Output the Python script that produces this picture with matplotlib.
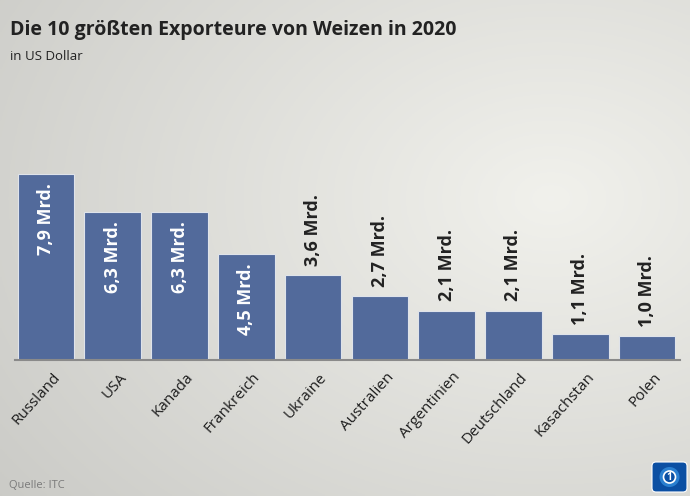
import numpy as np
import matplotlib
matplotlib.use("Agg")
import matplotlib.pyplot as plt
from matplotlib.patches import FancyBboxPatch, Circle
from matplotlib.transforms import ScaledTranslation

countries = ["Russland", "USA", "Kanada", "Frankreich", "Ukraine", "Australien",
             "Argentinien", "Deutschland", "Kasachstan", "Polen"]
values = [7.9, 6.3, 6.3, 4.5, 3.6, 2.7, 2.1, 2.1, 1.1, 1.0]
labels = ["7,9 Mrd.", "6,3 Mrd.", "6,3 Mrd.", "4,5 Mrd.", "3,6 Mrd.", "2,7 Mrd.",
          "2,1 Mrd.", "2,1 Mrd.", "1,1 Mrd.", "1,0 Mrd."]
inside = [True, True, True, True, False, False, False, False, False, False]

W, H = 690, 496
fig = plt.figure(figsize=(W / 100, H / 100), dpi=100)
plt.rcParams['font.family'] = ['Open Sans', 'DejaVu Sans']

# background gradient
bg = fig.add_axes([0, 0, 1, 1], zorder=-10)
yy, xx = np.mgrid[0:1:200j, 0:1:280j]
d = np.sqrt((xx - 0.8) ** 2 + ((1 - yy) - 0.6) ** 2)
light = np.clip(1 - d / 1.0, 0, 1)
g = 0.80 + 0.15 * light
img = np.dstack([g * 0.995, g * 0.995, g * 0.975])
bg.imshow(img, extent=[0, 1, 0, 1], aspect='auto', origin='upper')
bg.axis('off')

# main axes
x0, x1 = 15, 680
base = 360
ax = fig.add_axes([x0 / W, 1 - base / H, (x1 - x0) / W, 280 / H])
ax.patch.set_alpha(0)
pos = np.arange(len(countries))
bars = ax.bar(pos, values, width=0.85, color='#526a9b', edgecolor='#dfe3ea', linewidth=0.8)
ax.set_xlim(-0.464, 9.494)
ax.set_ylim(0, 11.9)
for s in ['top', 'right', 'left']:
    ax.spines[s].set_visible(False)
ax.spines['bottom'].set_color('#8a8a8a')
ax.spines['bottom'].set_linewidth(1.5)
ax.set_yticks([])
ax.set_xticks(pos)
ax.set_xticklabels(countries, rotation=48, ha='right', rotation_mode='anchor',
                   fontsize=11, color='#1e1e1e')
ax.tick_params(axis='x', length=0, pad=7)
off = ScaledTranslation(6 / 100, 0, fig.dpi_scale_trans)
for lbl in ax.get_xticklabels():
    lbl.set_transform(lbl.get_transform() + off)

for p, v, l, ins in zip(pos, values, labels, inside):
    if ins:
        ax.text(p, v - 0.4, l, rotation=90, ha='center', va='top', color='white',
                fontsize=13, fontweight='bold')
    else:
        ax.text(p, v + 0.4, l, rotation=90, ha='center', va='bottom', color='#222222',
                fontsize=13, fontweight='bold')

fig.text(10 / W, 1 - 30 / H, "Die 10 größten Exporteure von Weizen in 2020",
         fontsize=14, fontweight='bold', color='#222222', va='center', ha='left')
fig.text(10 / W, 1 - 56 / H, "in US Dollar", fontsize=9.5, color='#222222',
         va='center', ha='left')
fig.text(9 / W, 1 - 485 / H, "Quelle: ITC", fontsize=8, color='#7a7a7a',
         va='center', ha='left')

# logo
lg = fig.add_axes([651 / W, 1 - 493 / H, 37 / W, 32 / H])
lg.set_xlim(0, 37); lg.set_ylim(0, 32); lg.axis('off')
lg.add_patch(FancyBboxPatch((1, 1), 35, 30, boxstyle="round,pad=0,rounding_size=4",
                            fc='#0b4fa3', ec='#ffffff', lw=0.8))
lg.add_patch(Circle((18.5, 16), 10, fc='#2a7fd0', ec='none'))
lg.add_patch(Circle((18.5, 16), 6, fc='#0b4fa3', ec='white', lw=1.2))
lg.text(18.5, 16, "1", color='white', fontsize=7, fontweight='bold', ha='center', va='center')

fig.savefig("out.png", dpi=100)
